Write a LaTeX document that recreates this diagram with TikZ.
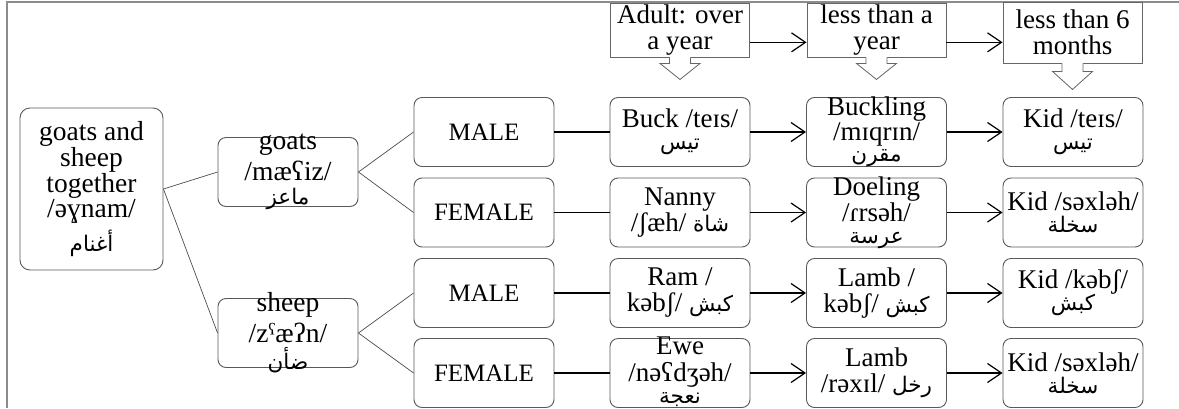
\documentclass[tikz,border=0pt]{standalone}
\usepackage{fontspec}
\setmainfont{Liberation Serif}
\newfontfamily\arabicfont[Script=Arabic]{DejaVu Sans}
\TeXXeTstate=1
\usetikzlibrary{arrows.meta,calc}
\newcommand\AR[1]{{\arabicfont\fontsize{21.5}{22}\selectfont\beginR #1\endR}}
\newcommand\blockdown[3]{%
  \fill[white] ($(#1.south)+(-10.5,-1)$) -- ($(#1.south)+(-10.5,#2)$) -- ($(#1.south)+(-20,#2)$) -- ($(#1.south)+(0,#2+#3)$) -- ($(#1.south)+(20,#2)$) -- ($(#1.south)+(10.5,#2)$) -- ($(#1.south)+(10.5,-1)$) -- cycle;
  \draw[barrow] ($(#1.south)+(-10.5,0)$) -- ($(#1.south)+(-10.5,#2)$) -- ($(#1.south)+(-20,#2)$) -- ($(#1.south)+(0,#2+#3)$) -- ($(#1.south)+(20,#2)$) -- ($(#1.south)+(10.5,#2)$) -- ($(#1.south)+(10.5,0)$);}
\begin{document}
\begin{tikzpicture}[x=1pt,y=-1pt,
  rbox/.style={draw=black!65, line width=0.9pt, rounded corners=8pt, minimum width=140pt, minimum height=69pt, inner sep=0pt},
  hbox/.style={draw=black!60, line width=0.9pt, minimum width=139pt, inner sep=0pt},
  tx/.style={align=center, font=\fontsize{27}{26}\selectfont, inner sep=0pt},
  txg/.style={align=center, font=\fontsize{25}{26}\selectfont, inner sep=0pt},
  txl/.style={align=center, font=\fontsize{27.5}{21.5}\selectfont, inner sep=0pt},
  thin/.style={draw=black!70, line width=0.7pt},
  link/.style={draw=black, line width=1.2pt},
  arr/.style={draw=black, line width=1.2pt, -{Straight Barb[length=14pt,width=19pt,line width=1.2pt]}},
  barrow/.style={draw=black!60, line width=0.8pt},
  frame/.style={draw=black!45, line width=1.2pt}
]
\useasboundingbox (0,0) rectangle (1179,408);
\draw[frame] (7,408) -- (7,2) -- (1179,2);

% left boxes
\node[rbox, minimum width=143pt, minimum height=162pt, rounded corners=10pt,
  label={[txl]center:{goats and\\ sheep\\ together\\ /əɣnam/\\[5pt] \AR{أغنام}}}] (root) at (91.5,189) {};
\node[rbox, label={[txl]center:{goats\\[4pt] /mæʕiz/\\[3pt] \AR{ماعز}}}] (goats) at (288,172) {};
\node[rbox, label={[txl]center:{sheep\\[4pt] /zˤæʔn/\\[4pt] \AR{ضأن}}}] (sheep) at (288,333) {};

% gender
\node[rbox, label={[txg]center:{MALE}}] (m1) at (484,132) {};
\node[rbox, label={[txg]center:{FEMALE}}] (f1) at (484,212.5) {};
\node[rbox, label={[txg]center:{MALE}}] (m2) at (484,293) {};
\node[rbox, label={[txg]center:{FEMALE}}] (f2) at (484,373) {};

% adults
\node[rbox, label={[tx]center:{Buck /teɪs/\\[-4pt] \AR{تيس}}}] (buck) at (680,132) {};
\node[rbox, label={[tx]center:{Nanny\\ /ʃæh/ \AR{شاة}}}] (nanny) at (680,212.5) {};
\node[rbox, label={[tx]center:{Ram /\\ kəbʃ/ \AR{كبش}}}] (ram) at (680,293) {};
\node[rbox, label={[tx,yshift=1.5pt]center:{Ewe\\[1pt] /nəʕdʒəh/\\[-4pt] \AR{نعجة}}}] (ewe) at (680,373) {};

% young
\node[rbox, label={[tx]center:{Buckling\\[-1pt] /mɪqrɪn/\\[-5pt] \AR{مقرن}}}] (buckling) at (876.5,132) {};
\node[rbox, label={[tx]center:{Doeling\\ /ɾrsəh/\\[-4pt] \AR{عرسة}}}] (doeling) at (876.5,212.5) {};
\node[rbox, label={[tx]center:{Lamb /\\ kəbʃ/ \AR{كبش}}}] (lamb1) at (876.5,293) {};
\node[rbox, label={[tx]center:{Lamb\\ /rəxɪl/ \AR{رخل}}}] (lamb2) at (876.5,373) {};

% kids
\node[rbox, label={[tx]center:{Kid /teɪs/\\[-4pt] \AR{تيس}}}] (kid1) at (1073,132) {};
\node[rbox, label={[tx]center:{Kid /səxləh/\\[-4pt] \AR{سخلة}}}] (kid2) at (1073,212.5) {};
\node[rbox, label={[tx]center:{Kid /kəbʃ/\\[-4pt] \AR{كبش}}}] (kid3) at (1073,293) {};
\node[rbox, label={[tx]center:{Kid /səxləh/\\[-4pt] \AR{سخلة}}}] (kid4) at (1073,373) {};

% headers
\node[hbox, minimum height=54pt, label={[tx]center:{Adult: over\\ a year}}] (h1) at (680,30) {};
\node[hbox, minimum height=54pt, label={[tx]center:{less than a\\ year}}] (h2) at (876.5,30) {};
\node[hbox, minimum height=61pt, label={[tx]center:{less than 6\\ months}}] (h3) at (1072.5,32.5) {};

\draw[arr] (h1.-10) -- (h1.-10 -| h2.west);
\draw[arr] (h2.-10) -- (h2.-10 -| h3.west);
\blockdown{h1}{6}{16}
\blockdown{h2}{6}{16}
\blockdown{h3}{8}{18}

% tree connectors
\draw[thin] (root.east) -- (goats.west);
\draw[thin] (root.east) -- (sheep.west);
\draw[thin] (goats.east) -- (m1.west);
\draw[thin] (goats.east) -- (f1.west);
\draw[thin] (sheep.east) -- (m2.west);
\draw[thin] (sheep.east) -- (f2.west);

\foreach \a/\b in {m1/buck, f1/nanny, m2/ram, f2/ewe}{\draw[link] (\a.east) -- (\b.west);}
\foreach \a/\b in {buck/buckling, nanny/doeling, ram/lamb1, ewe/lamb2, buckling/kid1, doeling/kid2, lamb1/kid3, lamb2/kid4}{\draw[arr] (\a.east) -- (\b.west);}
\end{tikzpicture}
\end{document}
